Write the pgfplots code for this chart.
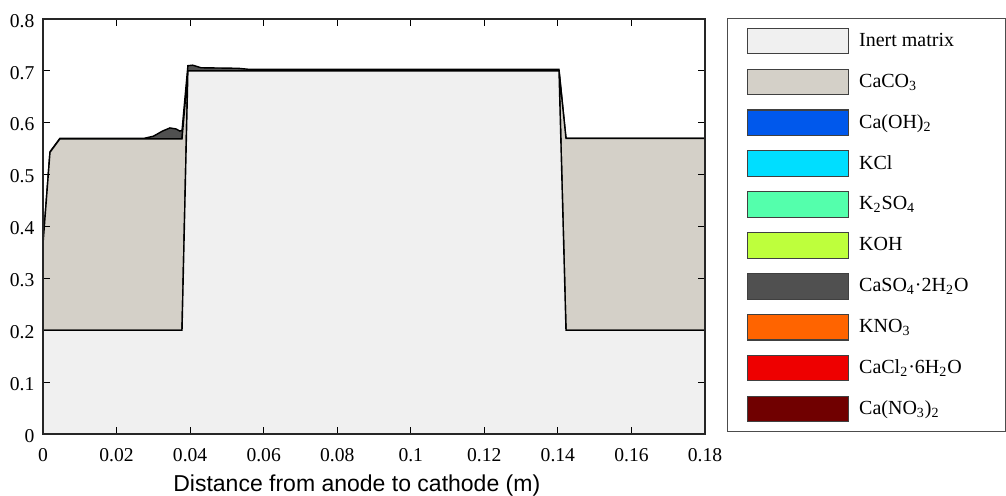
\documentclass[border=0pt]{standalone}
\usepackage{fontspec}
\setmainfont{Liberation Serif}
\newfontfamily\labelsans{Liberation Sans}
\usepackage{pgfplots}
\pgfplotsset{compat=1.18}
\usepackage{pgfplotstable}

\definecolor{inertc}{RGB}{240,240,240}
\definecolor{caco3c}{RGB}{212,208,200}
\definecolor{caoh2c}{RGB}{0,88,236}
\definecolor{kclc}{RGB}{0,222,255}
\definecolor{k2so4c}{RGB}{84,255,172}
\definecolor{kohc}{RGB}{190,255,60}
\definecolor{caso4c}{RGB}{80,80,80}
\definecolor{kno3c}{RGB}{255,100,0}
\definecolor{cacl2c}{RGB}{238,0,0}
\definecolor{cano32c}{RGB}{112,0,0}

\pgfplotstableread{
x       inert  caco3  caso4
0       0.2    0.166  0.001
0.0019  0.2    0.343  0.001
0.0046  0.2    0.369  0.001
0.01    0.2    0.369  0.001
0.02    0.2    0.369  0.001
0.0275  0.2    0.369  0.001
0.0300  0.2    0.369  0.005
0.0325  0.2    0.369  0.015
0.0345  0.2    0.369  0.021
0.0362  0.2    0.369  0.019
0.0372  0.2    0.369  0.015
0.0378  0.2    0.369  0.016
0.0394  0.7    0.0    0.010
0.0407  0.7    0.0    0.011
0.0430  0.7    0.0    0.006
0.0530  0.7    0.0    0.005
0.0560  0.7    0.0    0.003
0.1000  0.7    0.0    0.003
0.1403  0.7    0.0    0.003
0.1422  0.2    0.370  0.0
0.1600  0.2    0.370  0.0
0.1800  0.2    0.370  0.0
}\datatab

\begin{document}
\begin{tikzpicture}
\begin{axis}[
  name=ax, at={(0,0)}, anchor=south west,
  width=331pt, height=207.5pt, scale only axis,
  xmin=0, xmax=0.18, ymin=0, ymax=0.8,
  xtick={0,0.02,0.04,0.06,0.08,0.1,0.12,0.14,0.16,0.18},
  ytick={0,0.1,0.2,0.3,0.4,0.5,0.6,0.7,0.8},
  scaled ticks=false,
  /pgf/number format/.cd, fixed, precision=2, assume math mode=true,
  /pgfplots/.cd,
  xticklabel={\textrm{\pgfmathprintnumber{\tick}}},
  yticklabel={\textrm{\pgfmathprintnumber{\tick}}},
  tick align=inside, major tick length=3.5pt,
  tick style={black, line width=0.6pt},
  axis line style={black!85, line width=0.75pt},
  axis on top,
  stack plots=y,
  ticklabel style={font=\rmfamily\fontsize{9.8}{11}\selectfont},
  xticklabel style={yshift=-3.5pt},
  yticklabel style={xshift=-0.8pt, yshift=-0.9pt},
  xlabel={Distance from anode to cathode (m)},
  xlabel style={font=\labelsans\fontsize{11.5}{13}\selectfont, at={(axis description cs:0.474,0)}, anchor=north, inner sep=0pt, yshift=-20.3pt},
  legend image code/.code={
    \path[draw=none, fill=none] (-10pt,-10.22pt) rectangle (50.5pt,10.22pt);
    \draw[#1, draw=black!75, line width=0.6pt] (0pt,-6.4pt) rectangle (50.5pt,6.4pt);
  },
  legend cell align=left,
  legend style={at={(1.0332,1.0024)}, anchor=north west, draw=black!70, line width=0.6pt,
    inner xsep=0pt, inner ysep=1pt, column sep=5pt, row sep=0pt,
    font=\fontsize{10}{12}\selectfont, nodes={inner sep=0pt}},
]
\addplot[fill=inertc, draw=black, line width=0.7pt] table[x=x, y=inert]{\datatab} \closedcycle;
\addlegendentry{\makebox[73pt][l]{Inert matrix}}
\addplot[fill=caco3c, draw=black, line width=0.7pt] table[x=x, y=caco3]{\datatab} \closedcycle;
\addlegendentry{\makebox[73pt][l]{CaCO\textsubscript{3}}}
\addlegendimage{fill=caoh2c, draw=black}
\addlegendentry{\makebox[73pt][l]{Ca(OH)\textsubscript{2}}}
\addlegendimage{fill=kclc, draw=black}
\addlegendentry{\makebox[73pt][l]{KCl}}
\addlegendimage{fill=k2so4c, draw=black}
\addlegendentry{\makebox[73pt][l]{K\textsubscript{2}SO\textsubscript{4}}}
\addlegendimage{fill=kohc, draw=black}
\addlegendentry{\makebox[73pt][l]{KOH}}
\addplot[fill=caso4c, draw=black, line width=0.7pt] table[x=x, y=caso4]{\datatab} \closedcycle;
\addlegendentry{\makebox[73pt][l]{CaSO\textsubscript{4}·2H\textsubscript{2}O}}
\addlegendimage{fill=kno3c, draw=black}
\addlegendentry{\makebox[73pt][l]{KNO\textsubscript{3}}}
\addlegendimage{fill=cacl2c, draw=black}
\addlegendentry{\makebox[73pt][l]{CaCl\textsubscript{2}·6H\textsubscript{2}O}}
\addlegendimage{fill=cano32c, draw=black}
\addlegendentry{\makebox[73pt][l]{Ca(NO\textsubscript{3})\textsubscript{2}}}
\end{axis}
\pgfresetboundingbox
\path[use as bounding box] ([shift={(-21.5pt,-31pt)}]ax.south west) rectangle ([shift={(481.5pt,217pt)}]ax.south west);
\end{tikzpicture}
\end{document}
